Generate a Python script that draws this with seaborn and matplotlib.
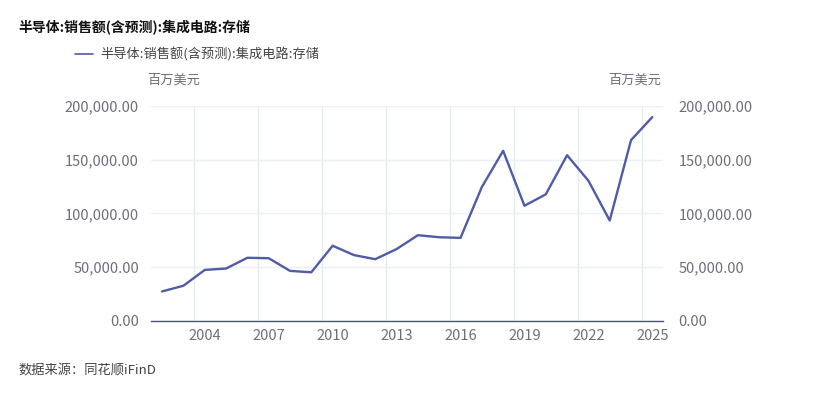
import matplotlib
matplotlib.use('Agg')
import matplotlib.pyplot as plt
import seaborn as sns
import pandas as pd
from matplotlib.ticker import FuncFormatter

# 数据
years = list(range(2002, 2026))
sales = [27.5, 32.8, 47.5, 48.8, 58.8, 58.4, 46.6, 45.3, 70.0, 61.3, 57.5, 66.9,
         79.8, 77.9, 77.3, 124.6, 158.3, 107.2, 117.8, 154.2, 130.5, 93.5, 168.2, 189.7]
sales = [v * 1000 for v in sales]
xtick_years = [2004, 2007, 2010, 2013, 2016, 2019, 2022, 2025]
yticks = [0, 50000, 100000, 150000, 200000]

title = '半导体:销售额(含预测):集成电路:存储'
unit = '百万美元'
source = '数据来源：同花顺iFinD'

sns.set_style('white')
plt.rcParams['font.family'] = ['Noto Sans CJK SC', 'DejaVu Sans']

line_color = '#4f5ca6'
label_color = '#6e7079'

df = pd.DataFrame({'year': years, 'sales': sales})

fig = plt.figure(figsize=(8.17, 3.98), dpi=100)
ax = fig.add_axes([0.1854, 0.1935, 0.6261, 0.5402])

sns.lineplot(data=df, x='year', y='sales', ax=ax, color=line_color, linewidth=1.7)

ax.set_xlim(2001.5, 2025.5)
ax.set_ylim(0, 200000)
ax.set_xticks(xtick_years)
ax.set_xticks([y - 0.5 for y in xtick_years], minor=True)
ax.set_yticks(yticks)
fmt = FuncFormatter(lambda v, p: f'{v:,.2f}')
ax.yaxis.set_major_formatter(fmt)
ax.set_xlabel('')
ax.set_ylabel('')

ax.grid(which='minor', axis='x', color='#e2eef2', linewidth=1)
ax.grid(which='major', axis='y', color='#eceff5', linewidth=1)
ax.grid(which='major', axis='x', visible=False)
ax.set_axisbelow(True)

for s in ['top', 'right', 'left']:
    ax.spines[s].set_visible(False)
ax.spines['bottom'].set_color('#4a5585')
ax.spines['bottom'].set_linewidth(1)

ax.tick_params(axis='x', which='both', length=0, pad=6, labelsize=10.5, labelcolor=label_color)
ax.tick_params(axis='y', length=0, pad=9, labelsize=10.5, labelcolor=label_color)

ax2 = ax.twinx()
ax2.set_ylim(0, 200000)
ax2.set_yticks(yticks)
ax2.yaxis.set_major_formatter(fmt)
for s in ['top', 'right', 'left', 'bottom']:
    ax2.spines[s].set_visible(False)
ax2.tick_params(axis='y', length=0, pad=11, labelsize=10.5, labelcolor=label_color)

# 文字
fig.text(18 / 817, 1 - 28 / 398, title, fontsize=10, fontweight='bold', color='#111111', va='center')
fig.lines.append(plt.Line2D([75 / 817, 93 / 817], [1 - 54 / 398, 1 - 54 / 398],
                            transform=fig.transFigure, color=line_color, linewidth=1.2))
fig.text(100 / 817, 1 - 54 / 398, title, fontsize=9.5, color='#444444', va='center')
fig.text(174 / 817, 1 - 80 / 398, unit, fontsize=9.5, color=label_color, va='center', ha='center')
fig.text(635 / 817, 1 - 80 / 398, unit, fontsize=9.5, color=label_color, va='center', ha='center')
fig.text(18 / 817, 1 - 370 / 398, source, fontsize=9.5, color='#444444', va='center')

fig.savefig('out.png', dpi=100)
